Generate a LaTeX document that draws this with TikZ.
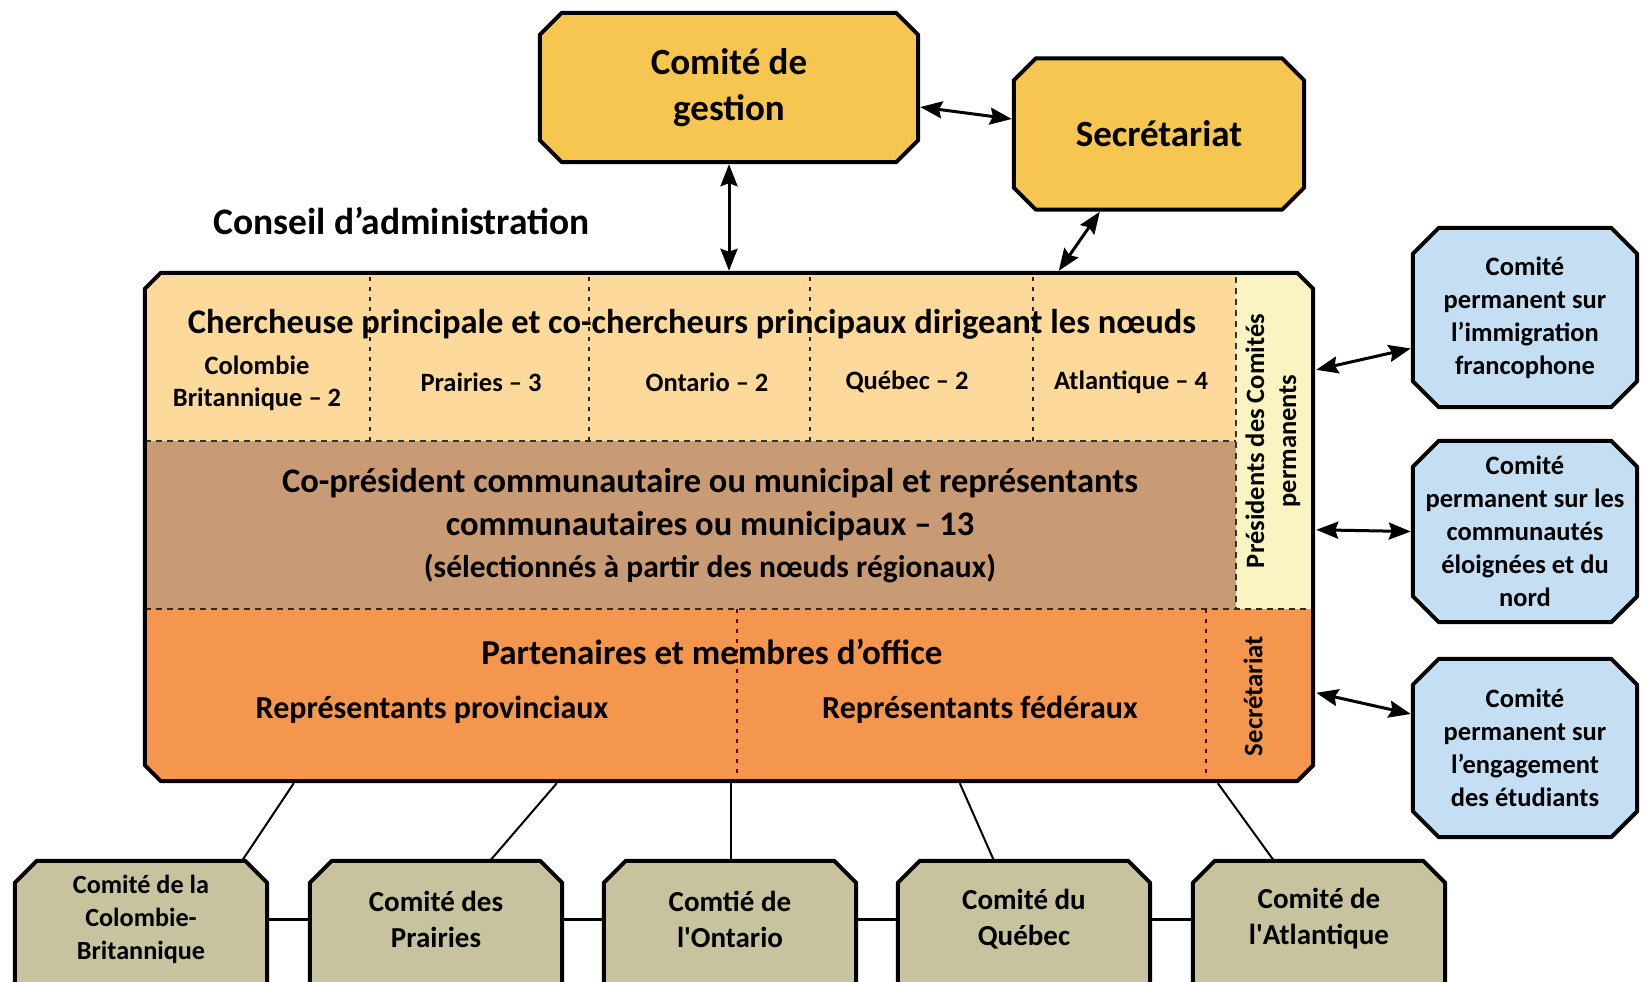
\documentclass[tikz,border=0pt]{standalone}
\usepackage{fontspec}
\setmainfont{Carlito}
\usetikzlibrary{arrows.meta,calc,backgrounds}
\definecolor{gold}{HTML}{F6C650}
\definecolor{peach}{HTML}{FDDA9C}
\definecolor{brownband}{HTML}{C99B74}
\definecolor{ylw}{HTML}{F9F4C1}
\definecolor{orng}{HTML}{F4964D}
\definecolor{bluebox}{HTML}{C4DFF3}
\definecolor{khaki}{HTML}{C8C39F}
\newcommand\octpath[3]{($(#1.north west)+(#2pt,0pt)$) -- ($(#1.north east)+(-#2pt,0pt)$) -- ($(#1.north east)+(0pt,-#2pt)$) -- ($(#1.south east)+(0pt,#2pt-#3pt)$) -- ($(#1.south east)+(-#2pt,-#3pt)$) -- ($(#1.south west)+(#2pt,-#3pt)$) -- ($(#1.south west)+(0pt,#2pt-#3pt)$) -- ($(#1.north west)+(0pt,-#2pt)$) -- cycle}
\newcommand\octbox[4]{\begin{pgfonlayer}{background}\filldraw[fill=#3, line width=4pt, line join=round] \octpath{#1}{#2}{#4};\end{pgfonlayer}}
\tikzset{
  every node/.style={font=\bfseries, align=center, inner sep=0pt},
  twoway/.style={{Stealth[length=22pt,width=17pt,inset=3pt]}-{Stealth[length=22pt,width=17pt,inset=3pt]}, line width=3pt},
  link/.style={line width=2pt},
  sepline/.style={dash pattern=on 6pt off 5pt, line width=2.4pt, draw=black!80},
  coldiv/.style={dash pattern=on 4pt off 6pt, line width=2.4pt, draw=black!85},
}
\begin{document}
\begin{tikzpicture}[x=1pt,y=-1pt]
\useasboundingbox (0,0) rectangle (1647,982);
% top boxes
\node[minimum width=378, minimum height=149, font=\bfseries\fontsize{37}{46}\selectfont] (cg) at (729,87.5) {Comité de\\gestion};
\octbox{cg}{22}{gold}{0}
\node[minimum width=290, minimum height=151, font=\bfseries\fontsize{37}{46}\selectfont] (sec) at (1159,134) {Secrétariat};
\octbox{sec}{22}{gold}{0}
\node[anchor=west, font=\bfseries\fontsize{37.5}{44}\selectfont] (ca) at (213,221) {Conseil d’administration};
% board
\node[minimum width=1168, minimum height=508] (board) at (729,527) {};
\begin{scope}
\clip \octpath{board}{16}{0};
\fill[peach] (145,273) rectangle (1236,441);
\fill[brownband] (145,441) rectangle (1236,609);
\fill[ylw] (1236,273) rectangle (1313,609);
\fill[orng] (145,609) rectangle (1313,781);
\end{scope}
\draw[sepline] (145,441) -- (1236,441);
\draw[sepline, draw=black!70!brown] (145,609) -- (1311,609);
\foreach \x in {370,589,810,1033} \draw[coldiv] (\x,277) -- (\x,441);
\draw[sepline] (1236,277) -- (1236,609);
\draw[coldiv, draw=black!60!red] (737,609) -- (737,779);
\draw[coldiv, draw=black!60!red] (1206,609) -- (1206,779);
\draw[line width=4pt, line join=round] \octpath{board}{16}{0};
% board texts
\node[font=\bfseries\fontsize{34.5}{40}\selectfont] (t1) at (692,324) {Chercheuse principale et co-chercheurs principaux dirigeant les nœuds};
\begin{scope}[every node/.append style={font=\bfseries\fontsize{26.5}{32}\selectfont}]
\node (r1) at (257,383) {Colombie\\Britannique – 2};
\node (r2) at (481,382) {Prairies – 3};
\node (r3) at (707,382) {Ontario – 2};
\node (r4) at (907,382) {Québec – 2};
\node (r5) at (1131,382) {Atlantique – 4};
\end{scope}
\node[font=\bfseries\fontsize{34.5}{43}\selectfont] (t2) at (710,505) {Co-président communautaire ou municipal et représentants\\communautaires ou municipaux – 13};
\node[font=\bfseries\fontsize{31.5}{36}\selectfont] (t3) at (710,568) {(sélectionnés à partir des nœuds régionaux)};
\node[rotate=90, font=\bfseries\fontsize{26.5}{32}\selectfont] (pres) at (1273,441) {Présidents des Comités\\permanents};
\node[font=\bfseries\fontsize{35}{40}\selectfont] (t4) at (712,652) {Partenaires et membres d’office};
\node[font=\bfseries\fontsize{32}{38}\selectfont] (t5) at (432,710) {Représentants provinciaux};
\node[font=\bfseries\fontsize{32}{38}\selectfont] (t6) at (980,710) {Représentants fédéraux};
\node[rotate=90, font=\bfseries\fontsize{26.7}{32}\selectfont] (sec2) at (1253,696) {Secrétariat};
% right boxes
\begin{scope}[every node/.append style={minimum width=224, font=\bfseries\fontsize{26.5}{33}\selectfont}]
\node[minimum height=179] (p1) at (1525,317.5) {Comité\\permanent sur\\l’immigration\\francophone};
\node[minimum height=181] (p2) at (1525,531.5) {Comité\\permanent sur les\\communautés\\éloignées et du\\nord};
\node[minimum height=178] (p3) at (1525,748) {Comité\\permanent sur\\l’engagement\\des étudiants};
\end{scope}
\octbox{p1}{26}{bluebox}{0}
\octbox{p2}{26}{bluebox}{0}
\octbox{p3}{26}{bluebox}{0}
% bottom boxes
\begin{scope}[every node/.append style={minimum width=252, minimum height=116, font=\bfseries\fontsize{29}{36}\selectfont}]
\node[font=\bfseries\fontsize{26.2}{33}\selectfont] (b1) at (141,919) {Comité de la\\Colombie-\\Britannique};
\node (b2) at (436,919) {Comité des\\Prairies};
\node (b3) at (730,919) {Comtié de\\l\textquotesingle Ontario};
\node (b4) at (1024,919) {Comité du\\Québec};
\node (b5) at (1319,919) {Comité de\\l\textquotesingle Atlantique};
\end{scope}
\foreach \b in {b1,b2,b3,b4,b5} {\octbox{\b}{22}{khaki}{40}}
% connectors
\draw[twoway] ($(cg.south)+(0pt,-2pt)$) -- ($(board.north)+(0pt,2pt)$);
\draw[twoway] ($(cg.east)+(2pt,-19.5pt)$) -- ($(sec.west)+(-2pt,15pt)$);
\draw[twoway] ($(sec.south west)+(86pt,-2pt)$) -- ($(board.north west)+(914pt,2pt)$);
\draw[twoway] ($(board.north east)+(3pt,-97pt)$) -- ($(p1.west)+(-2pt,-31pt)$);
\draw[twoway] ($(board.north east)+(3pt,-257pt)$) -- ($(p2.west)+(-2pt,0pt)$);
\draw[twoway] ($(board.north east)+(3pt,-420pt)$) -- ($(p3.west)+(-2pt,34pt)$);
\draw[link] ($(board.south west)+(149pt,-2pt)$) -- ($(b1.north)+(101pt,0pt)$);
\draw[link] ($(board.south west)+(412pt,-2pt)$) -- ($(b2.north)+(54pt,0pt)$);
\draw[link] ($(board.south)+(2pt,-2pt)$) -- ($(b3.north)+(1pt,0pt)$);
\draw[link] ($(board.south west)+(815pt,-2pt)$) -- ($(b4.north)+(-30pt,0pt)$);
\draw[link] ($(board.south west)+(1073pt,-2pt)$) -- ($(b5.north)+(-45pt,0pt)$);
\draw[link, line width=3pt] (b1.east) -- (b2.west);
\draw[link, line width=3pt] (b2.east) -- (b3.west);
\draw[link, line width=3pt] (b3.east) -- (b4.west);
\draw[link, line width=3pt] (b4.east) -- (b5.west);
\end{tikzpicture}
\end{document}
